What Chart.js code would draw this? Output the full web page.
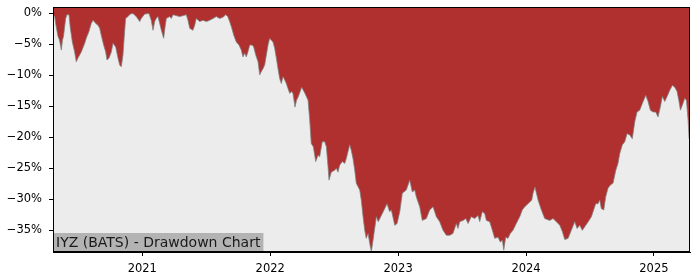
<!DOCTYPE html>
<html>
<head>
<meta charset="utf-8">
<script src="https://cdn.jsdelivr.net/npm/chart.js@4/dist/chart.umd.min.js"></script>
<style>
  html, body { margin: 0; padding: 0; background: #fff; }
  #wrap { width: 700px; height: 280px; }
</style>
</head>
<body>
<div id="wrap"><canvas id="c" width="700" height="280"></canvas></div>
<script>
/* IYZ (BATS) drawdown chart */
const TITLE = "IYZ (BATS) - Drawdown Chart";

// decimal years
const dates = [
  2020.302, 2020.315, 2020.325, 2020.341, 2020.353, 2020.367, 2020.376, 2020.384, 2020.401, 2020.411,
  2020.427, 2020.437, 2020.453, 2020.471, 2020.484, 2020.497, 2020.523, 2020.550, 2020.562, 2020.583,
  2020.601, 2020.615, 2020.636, 2020.654, 2020.667, 2020.679, 2020.698, 2020.714, 2020.724, 2020.740,
  2020.758, 2020.771, 2020.792, 2020.810, 2020.823, 2020.836, 2020.849, 2020.862, 2020.870, 2020.888,
  2020.906, 2020.927, 2020.953, 2020.980, 2020.992, 2021.019, 2021.052, 2021.070, 2021.084, 2021.097,
  2021.109, 2021.123, 2021.136, 2021.149, 2021.167, 2021.180, 2021.188, 2021.214, 2021.227, 2021.240,
  2021.292, 2021.344, 2021.357, 2021.371, 2021.396, 2021.410, 2021.422, 2021.449, 2021.475, 2021.500,
  2021.527, 2021.553, 2021.579, 2021.605, 2021.631, 2021.652, 2021.668, 2021.683, 2021.696, 2021.715,
  2021.735, 2021.756, 2021.774, 2021.787, 2021.801, 2021.813, 2021.826, 2021.840, 2021.860, 2021.871,
  2021.887, 2021.905, 2021.918, 2021.930, 2021.944, 2021.957, 2021.970, 2021.983, 2021.996, 2022.009,
  2022.022, 2022.035, 2022.048, 2022.061, 2022.074, 2022.087, 2022.100, 2022.113, 2022.126, 2022.139,
  2022.153, 2022.165, 2022.178, 2022.194, 2022.206, 2022.220, 2022.246, 2022.272, 2022.296, 2022.309,
  2022.321, 2022.337, 2022.356, 2022.374, 2022.387, 2022.407, 2022.426, 2022.439, 2022.452, 2022.460,
  2022.478, 2022.504, 2022.517, 2022.530, 2022.543, 2022.564, 2022.583, 2022.595, 2022.608, 2022.622,
  2022.634, 2022.647, 2022.661, 2022.673, 2022.700, 2022.712, 2022.726, 2022.739, 2022.751, 2022.765,
  2022.783, 2022.791, 2022.804, 2022.830, 2022.845, 2022.869, 2022.895, 2022.913, 2022.934, 2022.947,
  2022.974, 2022.992, 2023.013, 2023.033, 2023.064, 2023.091, 2023.111, 2023.130, 2023.142, 2023.169,
  2023.189, 2023.221, 2023.247, 2023.273, 2023.299, 2023.325, 2023.351, 2023.377, 2023.404, 2023.429,
  2023.455, 2023.468, 2023.482, 2023.508, 2023.529, 2023.547, 2023.572, 2023.599, 2023.625, 2023.638,
  2023.658, 2023.677, 2023.690, 2023.716, 2023.737, 2023.755, 2023.781, 2023.799, 2023.815, 2023.826,
  2023.841, 2023.859, 2023.877, 2023.898, 2023.924, 2023.951, 2023.971, 2023.990, 2024.016, 2024.045,
  2024.055, 2024.070, 2024.094, 2024.120, 2024.146, 2024.185, 2024.211, 2024.237, 2024.264, 2024.284,
  2024.303, 2024.329, 2024.354, 2024.381, 2024.399, 2024.420, 2024.440, 2024.467, 2024.493, 2024.511,
  2024.524, 2024.545, 2024.563, 2024.576, 2024.589, 2024.608, 2024.623, 2024.641, 2024.659, 2024.680,
  2024.702, 2024.719, 2024.733, 2024.753, 2024.772, 2024.790, 2024.811, 2024.831, 2024.850, 2024.868,
  2024.889, 2024.910, 2024.936, 2024.954, 2024.972, 2024.993, 2025.014, 2025.032, 2025.050, 2025.066,
  2025.085, 2025.103, 2025.124, 2025.144, 2025.163, 2025.181, 2025.196, 2025.207, 2025.222, 2025.241,
  2025.254, 2025.267, 2025.275, 2025.282
];

// drawdown in %
const drawdown = [
  -0.2, -0.5, -1.9, -3.7, -4.3, -5.9, -4.3, -3.7, -0.8, -0.2,
  -0.2, -2.3, -4.6, -6.2, -7.8, -7.2, -6.2, -4.8, -4.0, -2.9,
  -1.6, -1.1, -1.6, -1.9, -2.4, -3.5, -5.1, -6.2, -7.5, -7.2,
  -6.2, -4.8, -5.4, -7.2, -8.3, -8.6, -6.7, -2.9, -0.8, -0.5,
  -0.1, 0, -0.5, -1.3, -0.8, -0.1, 0, -1.1, -2.7, -1.3,
  -0.8, -0.5, -1.6, -2.7, -4.0, -1.9, -0.8, -0.5, -0.8, -0.2,
  -0.5, -0.2, -1.1, -2.4, -2.7, -1.9, -0.8, -1.3, -1.1, -1.3,
  -1.1, -0.8, -0.5, -0.8, -0.6, -0.2, -0.5, -1.3, -2.1, -3.5,
  -4.6, -5.1, -5.9, -7.0, -6.4, -7.0, -6.2, -5.1, -5.1, -5.4,
  -6.7, -7.8, -9.9, -9.4, -8.9, -8.3, -6.7, -5.1, -4.0, -4.3,
  -4.6, -5.6, -7.2, -8.9, -10.5, -11.3, -10.2, -10.7, -11.3, -12.1,
  -12.9, -12.6, -12.9, -15.1, -14.0, -13.4, -11.9, -12.9, -14.0, -17.2,
  -21.0, -21.5, -23.9, -22.9, -23.1, -20.7, -20.7, -21.5, -24.7, -26.9,
  -25.6, -25.3, -25.0, -25.6, -24.5, -23.9, -24.2, -23.4, -22.3, -21.2,
  -22.1, -23.4, -25.3, -27.4, -28.5, -30.1, -32.8, -35.0, -36.3, -35.5,
  -37.7, -38.4, -36.6, -32.8, -33.6, -32.6, -31.5, -30.7, -32.0, -31.7,
  -34.2, -33.9, -32.0, -29.0, -28.5, -26.9, -28.8, -28.5, -29.6, -31.2,
  -33.4, -33.1, -31.7, -31.2, -32.8, -33.6, -35.0, -35.8, -35.8, -35.5,
  -33.9, -34.7, -33.6, -33.4, -33.1, -33.9, -32.8, -33.1, -32.6, -33.6,
  -32.0, -32.3, -33.4, -33.6, -35.0, -36.3, -36.1, -36.9, -36.6, -38.2,
  -36.1, -36.3, -35.5, -35.0, -33.9, -32.8, -31.7, -31.2, -30.7, -30.1,
  -29.0, -28.0, -30.1, -31.7, -33.1, -33.4, -33.1, -33.6, -34.2, -35.2,
  -36.5, -36.3, -35.0, -33.6, -34.7, -34.2, -35.0, -34.2, -33.4, -32.8,
  -32.0, -30.7, -30.7, -30.1, -31.5, -31.7, -29.6, -28.2, -27.7, -27.4,
  -25.3, -24.2, -22.6, -21.2, -20.7, -19.4, -19.6, -20.2, -17.5, -15.9,
  -15.6, -14.5, -13.2, -14.2, -15.6, -15.9, -15.9, -16.7, -15.1, -13.4,
  -14.2, -13.4, -12.4, -11.6, -11.9, -12.6, -14.2, -15.6, -14.8, -13.7,
  -14.0, -17.2, -20.2, -20.4
];

const yTicks = [0, -5, -10, -15, -20, -25, -30, -35];
const xTicks = [2021, 2022, 2023, 2024, 2025];

const FONT = "'DejaVu Sans', sans-serif";

const frame = {
  id: "frame",
  beforeDraw(chart) {
    const { ctx, chartArea: a } = chart;
    ctx.save();
    ctx.fillStyle = "#ececec";
    ctx.fillRect(a.left, a.top, a.right - a.left, a.bottom - a.top);
    ctx.restore();
  },
  afterDraw(chart) {
    const { ctx, chartArea: a } = chart;
    ctx.save();
    // label box
    ctx.font = "14px " + FONT;
    const w = ctx.measureText(TITLE).width;
    ctx.fillStyle = "#b3b3b3";
    ctx.fillRect(a.left, a.bottom - 19, w + 6, 19);
    ctx.fillStyle = "#1a1a1a";
    ctx.textBaseline = "middle";
    ctx.fillText(TITLE, a.left + 3, a.bottom - 9);
    // box border
    ctx.strokeStyle = "#000";
    ctx.lineWidth = 1;
    ctx.strokeRect(Math.round(a.left) + 0.5, Math.round(a.top) + 0.5,
      Math.round(a.right - a.left) - 1, Math.round(a.bottom - a.top) - 1);
    ctx.restore();
  },
};

new Chart(document.getElementById("c"), {
  type: "line",
  data: {
    datasets: [{
      data: dates.map((d, i) => ({ x: d, y: drawdown[i] })),
      borderColor: "rgba(128,128,128,0.75)",
      borderWidth: 1,
      backgroundColor: "#b03030",
      fill: "end",
      pointRadius: 0,
      tension: 0,
    }],
  },
  options: {
    responsive: false,
    animation: false,
    layout: { padding: { top: 7, right: 10, left: 0, bottom: 0 } },
    plugins: { legend: { display: false }, tooltip: { enabled: false } },
    scales: {
      x: {
        type: "linear", min: 2020.302, max: 2025.282,
        afterBuildTicks: (s) => { s.ticks = xTicks.map((v) => ({ value: v })); },
        afterFit: (s) => { s.height = 28; s.paddingLeft = 0; s.paddingRight = 0; },
        ticks: { color: "#000", font: { family: FONT, size: 11.5 }, padding: 6, maxRotation: 0,
          callback: (v) => String(v) },
        grid: { drawOnChartArea: false, drawTicks: true, tickLength: 4, color: "#000" },
        border: { display: true, color: "#000" },
      },
      y: {
        min: -38.5, max: 1.05,
        afterBuildTicks: (s) => { s.ticks = yTicks.map((v) => ({ value: v })); },
        afterFit: (s) => { s.width = 53; s.paddingTop = 0; s.paddingBottom = 0; },
        ticks: { color: "#000", font: { family: FONT, size: 11.5 }, padding: 7,
          callback: (v) => (v < 0 ? "\u2212" + Math.abs(v) : v) + "%" },
        grid: { drawOnChartArea: false, drawTicks: true, tickLength: 4, color: "#000" },
        border: { display: true, color: "#000" },
      },
    },
  },
  plugins: [frame],
});
</script>
</body>
</html>
